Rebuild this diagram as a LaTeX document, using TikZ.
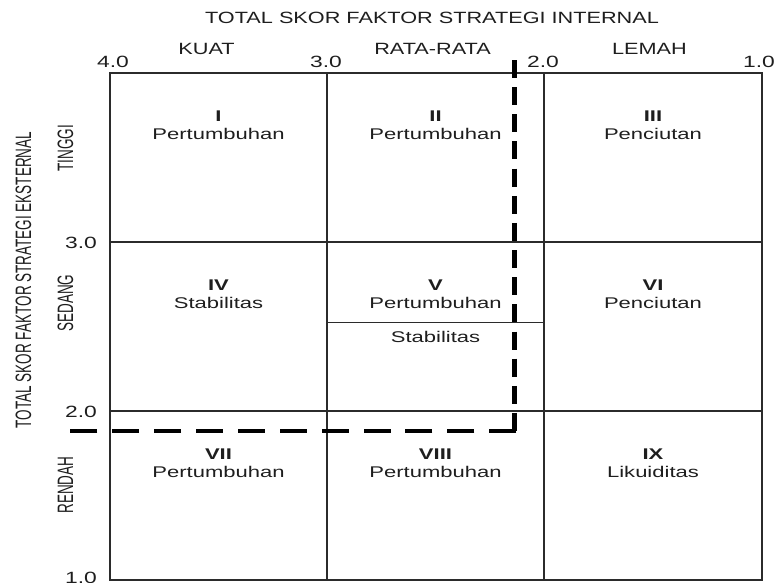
\documentclass[tikz,border=0pt]{standalone}
\usepackage{fontspec}
\setmainfont{Liberation Sans}
\usepackage{graphicx}
\definecolor{ink}{HTML}{1E1E1E}
\definecolor{gridc}{HTML}{2B2B2B}
\newcommand\hstr[1]{\scalebox{1.33}[1]{#1}}
\newcommand\dstr[1]{\scalebox{1.4}[1]{#1}}
\newcommand\cstr[1]{\scalebox{1.42}[1]{#1}}
\newcommand\vstr[1]{\scalebox{1}[1.65]{#1}}
\begin{document}
\begin{tikzpicture}[x=1pt,y=-1pt,
  gridline/.style={draw=gridc, line width=1.3pt},
  borderline/.style={draw=gridc, line width=1.6pt},
  splitline/.style={draw=gridc, line width=1pt},
  dashv/.style={draw=black, line width=5pt, dash pattern=on 18pt off 9.15pt},
  dashh/.style={draw=black, line width=4.5pt, dash pattern=on 27pt off 14.9pt},
  toplbl/.style={inner sep=0pt, anchor=base, text=ink, font=\fontsize{16.3}{18}\selectfont},
  cellnum/.style={inner sep=0pt, anchor=base, text=ink, font=\fontsize{15.5}{17}\selectfont\bfseries},
  celltxt/.style={inner sep=0pt, anchor=base, text=ink, font=\fontsize{15.5}{17}\selectfont},
  sidelbl/.style={inner sep=0pt, rotate=90, text=ink, font=\fontsize{13.5}{15}\selectfont},
]
\useasboundingbox (0,0) rectangle (777,582);

% grid
\draw[borderline] (110,73) rectangle (762,580);
\draw[gridline] (327,73) -- (327,580);
\draw[gridline] (544,73) -- (544,580);
\draw[gridline] (110,242) -- (762,242);
\draw[gridline] (110,411) -- (762,411);
\draw[splitline] (327,322) -- (544,322);

% titles
\node[toplbl] (title) at (432,23.7) {\hstr{TOTAL SKOR FAKTOR STRATEGI INTERNAL}};
\node[toplbl] (kuat) at (206.5,54) {\hstr{KUAT}};
\node[toplbl] (rata) at (432.5,54) {\hstr{RATA-RATA}};
\node[toplbl] (lemah) at (649.5,54) {\hstr{LEMAH}};
\node[toplbl] (x4) at (113,67) {\dstr{4.0}};
\node[toplbl] (x3) at (326,67) {\dstr{3.0}};
\node[toplbl] (x2) at (543,67) {\dstr{2.0}};
\node[toplbl] (x1) at (759,67) {\dstr{1.0}};
\node[toplbl] (y3) at (81,248) {\dstr{3.0}};
\node[toplbl] (y2) at (81,417) {\dstr{2.0}};
\node[toplbl] (y1) at (81,583) {\dstr{1.0}};

\node[sidelbl] (ytitle) at (23.5,280) {\vstr{TOTAL SKOR FAKTOR STRATEGI EKSTERNAL}};
\node[sidelbl] (tinggi) at (65.5,148) {\vstr{TINGGI}};
\node[sidelbl] (sedang) at (65.5,303) {\vstr{SEDANG}};
\node[sidelbl] (rendah) at (65.5,485) {\vstr{RENDAH}};

% cells
\node[cellnum] (n1) at (218.5,121) {\cstr{I}};
\node[celltxt] (t1) at (218.5,139) {\cstr{Pertumbuhan}};
\node[cellnum] (n2) at (435.5,121) {\cstr{II}};
\node[celltxt] (t2) at (435.5,139) {\cstr{Pertumbuhan}};
\node[cellnum] (n3) at (653,121) {\cstr{III}};
\node[celltxt] (t3) at (653,139) {\cstr{Penciutan}};

\node[cellnum] (n4) at (218.5,290) {\cstr{IV}};
\node[celltxt] (t4) at (218.5,308) {\cstr{Stabilitas}};
\node[cellnum] (n5) at (435.5,290) {\cstr{V}};
\node[celltxt] (t5) at (435.5,308) {\cstr{Pertumbuhan}};
\node[celltxt] (t5b) at (435.5,342) {\cstr{Stabilitas}};
\node[cellnum] (n6) at (653,290) {\cstr{VI}};
\node[celltxt] (t6) at (653,308) {\cstr{Penciutan}};

\node[cellnum] (n7) at (218.5,459) {\cstr{VII}};
\node[celltxt] (t7) at (218.5,477) {\cstr{Pertumbuhan}};
\node[cellnum] (n8) at (435.5,459) {\cstr{VIII}};
\node[celltxt] (t8) at (435.5,477) {\cstr{Pertumbuhan}};
\node[cellnum] (n9) at (653,459) {\cstr{IX}};
\node[celltxt] (t9) at (653,477) {\cstr{Likuiditas}};

% dashed position line
\coordinate (dtop) at (514,60);
\coordinate (dcorner) at (514,431);
\coordinate (dcornerx) at (516.25,431);
\coordinate (dleft) at (70,431);
\draw[dashv] (dtop) -- (dcorner);
\draw[dashh] (dcornerx) -- (dleft);
\end{tikzpicture}
\end{document}
